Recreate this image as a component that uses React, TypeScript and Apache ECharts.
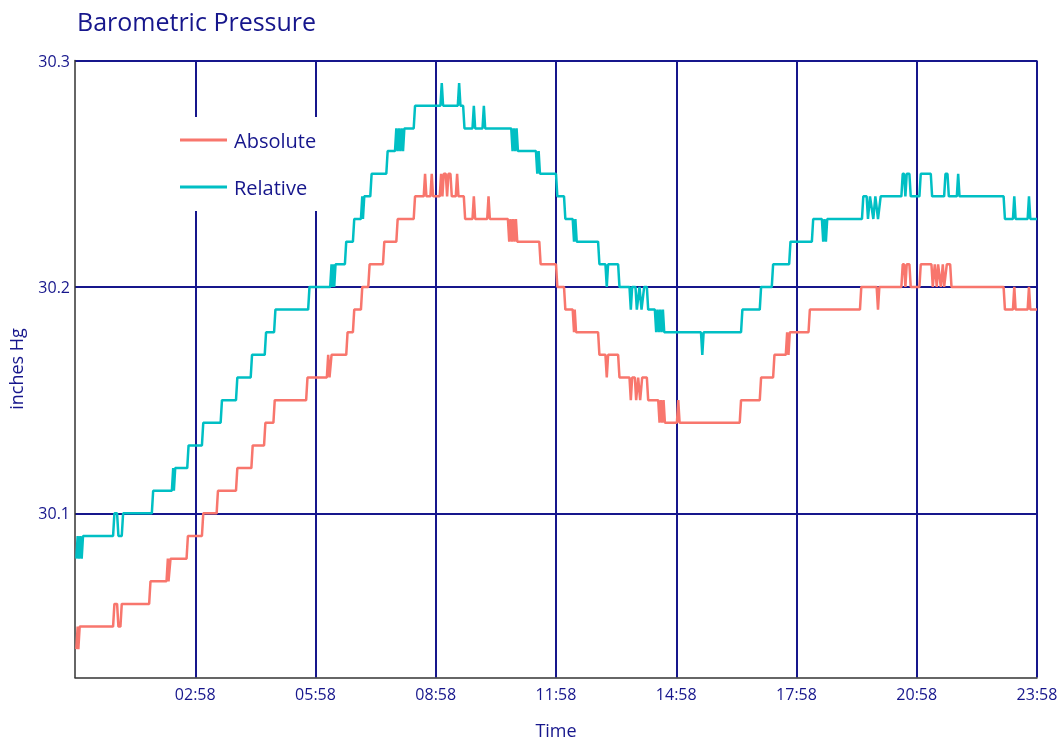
import React, { useEffect, useRef } from "react";
import * as echarts from "echarts";

// Minutes after midnight and readings (inches Hg)
const relativeMinutes = [
  0, 2, 4, 6, 8, 10, 55, 57, 61, 63, 68, 70, 113, 115, 143, 145, 146, 148, 166, 168,
  188, 190, 216, 218, 239, 241, 261, 263, 282, 284, 296, 298, 347, 349, 380, 382, 383, 385, 386, 388,
  402, 404, 414, 416, 426, 428, 429, 431, 440, 442, 464, 466, 477, 479, 481, 483, 485, 487, 489, 491,
  505, 507, 545, 547, 549, 571, 573, 575, 579, 581, 593, 595, 597, 608, 610, 612, 651, 653, 655, 657,
  659, 661, 688, 690, 692, 694, 718, 720, 730, 732, 743, 745, 747, 749, 781, 783, 792, 794, 796, 811,
  813, 828, 830, 832, 837, 839, 843, 846, 850, 854, 856, 866, 868, 870, 872, 874, 876, 878, 880, 935,
  937, 939, 995, 997, 1023, 1025, 1041, 1043, 1067, 1069, 1101, 1103, 1116, 1118, 1120, 1122, 1124, 1176, 1178, 1183,
  1185, 1188, 1193, 1196, 1200, 1204, 1235, 1237, 1239, 1241, 1243, 1247, 1249, 1262, 1264, 1279, 1281, 1299, 1301, 1304,
  1306, 1318, 1320, 1322, 1388, 1390, 1402, 1404, 1406, 1424, 1426, 1428, 1438,
];
const relativeValues = [
  30.08, 30.09, 30.08, 30.09, 30.08, 30.09, 30.09, 30.1, 30.1, 30.09, 30.09, 30.1, 30.1, 30.11, 30.11, 30.12, 30.11, 30.12, 30.12, 30.13,
  30.13, 30.14, 30.14, 30.15, 30.15, 30.16, 30.16, 30.17, 30.17, 30.18, 30.18, 30.19, 30.19, 30.2, 30.2, 30.21, 30.2, 30.21, 30.2, 30.21,
  30.21, 30.22, 30.22, 30.23, 30.23, 30.24, 30.23, 30.24, 30.24, 30.25, 30.25, 30.26, 30.26, 30.27, 30.26, 30.27, 30.26, 30.27, 30.26, 30.27,
  30.27, 30.28, 30.28, 30.29, 30.28, 30.28, 30.29, 30.28, 30.28, 30.27, 30.27, 30.28, 30.27, 30.27, 30.28, 30.27, 30.27, 30.26, 30.27, 30.26,
  30.27, 30.26, 30.26, 30.25, 30.26, 30.25, 30.25, 30.24, 30.24, 30.23, 30.23, 30.22, 30.23, 30.22, 30.22, 30.21, 30.21, 30.2, 30.21, 30.21,
  30.2, 30.2, 30.19, 30.2, 30.2, 30.19, 30.2, 30.19, 30.2, 30.2, 30.19, 30.19, 30.18, 30.19, 30.18, 30.19, 30.18, 30.19, 30.18, 30.18,
  30.17, 30.18, 30.18, 30.19, 30.19, 30.2, 30.2, 30.21, 30.21, 30.22, 30.22, 30.23, 30.23, 30.22, 30.23, 30.22, 30.23, 30.23, 30.24, 30.24,
  30.23, 30.24, 30.23, 30.24, 30.23, 30.24, 30.24, 30.25, 30.25, 30.24, 30.25, 30.25, 30.24, 30.24, 30.25, 30.25, 30.24, 30.24, 30.25, 30.25,
  30.24, 30.24, 30.25, 30.24, 30.24, 30.23, 30.23, 30.24, 30.23, 30.23, 30.24, 30.23, 30.23,
];

const absoluteMinutes = [
  0, 2, 3, 5, 55, 57, 61, 63, 66, 68, 109, 111, 135, 137, 138, 141, 165, 167, 188, 190,
  210, 212, 239, 241, 262, 264, 281, 283, 295, 297, 344, 346, 375, 377, 379, 382, 404, 406, 414, 416,
  426, 428, 437, 439, 459, 461, 479, 481, 505, 507, 520, 522, 524, 530, 532, 534, 544, 546, 548, 550,
  553, 555, 557, 560, 562, 568, 570, 572, 580, 582, 593, 595, 597, 615, 617, 619, 646, 648, 650, 652,
  654, 656, 658, 660, 693, 695, 718, 720, 730, 732, 743, 745, 746, 748, 781, 783, 792, 794, 796, 811,
  813, 828, 830, 832, 836, 838, 841, 844, 847, 854, 856, 871, 873, 875, 877, 879, 881, 899, 901, 903,
  993, 995, 1023, 1025, 1043, 1045, 1062, 1064, 1066, 1068, 1096, 1098, 1173, 1175, 1198, 1200, 1202, 1235, 1237, 1239,
  1241, 1243, 1247, 1249, 1262, 1264, 1280, 1282, 1285, 1288, 1290, 1294, 1297, 1299, 1303, 1308, 1310, 1388, 1390, 1402,
  1404, 1406, 1424, 1426, 1428, 1438,
];
const absoluteValues = [
  30.04, 30.05, 30.04, 30.05, 30.05, 30.06, 30.06, 30.05, 30.05, 30.06, 30.06, 30.07, 30.07, 30.08, 30.07, 30.08, 30.08, 30.09, 30.09, 30.1,
  30.1, 30.11, 30.11, 30.12, 30.12, 30.13, 30.13, 30.14, 30.14, 30.15, 30.15, 30.16, 30.16, 30.17, 30.16, 30.17, 30.17, 30.18, 30.18, 30.19,
  30.19, 30.2, 30.2, 30.21, 30.21, 30.22, 30.22, 30.23, 30.23, 30.24, 30.24, 30.25, 30.24, 30.24, 30.25, 30.24, 30.24, 30.25, 30.24, 30.25,
  30.25, 30.24, 30.25, 30.25, 30.24, 30.24, 30.25, 30.24, 30.24, 30.23, 30.23, 30.24, 30.23, 30.23, 30.24, 30.23, 30.23, 30.22, 30.23, 30.22,
  30.23, 30.22, 30.23, 30.22, 30.22, 30.21, 30.21, 30.2, 30.2, 30.19, 30.19, 30.18, 30.19, 30.18, 30.18, 30.17, 30.17, 30.16, 30.17, 30.17,
  30.16, 30.16, 30.15, 30.16, 30.16, 30.15, 30.16, 30.15, 30.16, 30.16, 30.15, 30.15, 30.14, 30.15, 30.14, 30.15, 30.14, 30.14, 30.15, 30.14,
  30.14, 30.15, 30.15, 30.16, 30.16, 30.17, 30.17, 30.18, 30.17, 30.18, 30.18, 30.19, 30.19, 30.2, 30.2, 30.19, 30.2, 30.2, 30.21, 30.21,
  30.2, 30.21, 30.21, 30.2, 30.2, 30.21, 30.21, 30.2, 30.21, 30.2, 30.21, 30.2, 30.21, 30.2, 30.21, 30.21, 30.2, 30.2, 30.19, 30.19,
  30.2, 30.19, 30.19, 30.2, 30.19, 30.19,
];

const seriesNames = ["Absolute", "Relative"];
const axisStartMinutes = -2; // 23:58 of the day before
const axisEndMinutes = 1438; // 23:58
const xTickMinutes = 180;
const yMin = 30.0275;
const yMax = 30.3;
const yStep = 0.1;

const NAVY = "#16168c";
const AXIS_DARK = "#333333";
const COLORS = ["#F8766D", "#00BFC4"];
const FONT = "'Open Sans', 'Noto Sans', sans-serif";

const pad2 = (n: number) => (n < 10 ? "0" + n : "" + n);
const fmtTime = (m: number) => {
  const mm = (((Math.round(m) % 1440) + 1440) % 1440);
  return pad2(Math.floor(mm / 60)) + ":" + pad2(mm % 60);
};

export default function App() {
  const ref = useRef<HTMLDivElement>(null);
  useEffect(() => {
    if (!ref.current) return;
    const chart = echarts.init(ref.current, null, { renderer: "svg" });
    const shift = -axisStartMinutes;
    const pairs = (ms: number[], vs: number[]) => ms.map((m, i) => [m + shift, vs[i]]);
    const lineSeries = (name: string, ms: number[], vs: number[], color: string) => ({
      type: "line",
      name,
      data: pairs(ms, vs),
      showSymbol: false,
      symbol: "none",
      smooth: false,
      lineStyle: { width: 2.5, color },
      itemStyle: { color },
      emphasis: { disabled: true },
    });
    chart.setOption({
      animation: false,
      textStyle: { fontFamily: FONT },
      title: {
        text: "Barometric Pressure",
        left: 77,
        top: 8,
        padding: 0,
        textStyle: { color: NAVY, fontSize: 25, fontWeight: "normal", fontFamily: FONT },
      },
      legend: {
        data: seriesNames,
        orient: "vertical",
        left: 165,
        top: 117,
        padding: [13, 15, 14, 15],
        itemGap: 27,
        itemWidth: 47,
        itemHeight: 3,
        icon: "rect",
        backgroundColor: "#ffffff",
        textStyle: { color: NAVY, fontSize: 20, fontFamily: FONT, padding: [0, 0, 0, 2] },
        selectedMode: false,
      },
      grid: { left: 75, right: 24, top: 60.5, bottom: 70.5, containLabel: false, outerBoundsMode: "none" },
      xAxis: {
        type: "value",
        min: 0,
        max: axisEndMinutes - axisStartMinutes,
        interval: xTickMinutes,
        name: "Time",
        nameLocation: "middle",
        nameGap: 43,
        nameTextStyle: { color: NAVY, fontSize: 18, fontFamily: FONT },
        axisLine: { show: true, onZero: false, lineStyle: { color: AXIS_DARK, width: 1.5 } },
        axisTick: { show: false },
        axisLabel: {
          color: NAVY,
          fontSize: 16,
          margin: 8,
          fontFamily: FONT,
          showMinLabel: false,
          formatter: (v: number) => fmtTime(v - shift),
        },
        splitLine: { show: true, showMinLine: false, lineStyle: { color: NAVY, width: 2 } },
      },
      yAxis: {
        type: "value",
        min: yMin,
        max: yMax,
        splitNumber: 3,
        minInterval: yStep,
        maxInterval: yStep,
        name: "inches Hg",
        nameLocation: "middle",
        nameGap: 50,
        nameTextStyle: { color: NAVY, fontSize: 18, fontFamily: FONT },
        axisLine: { show: true, onZero: false, lineStyle: { color: AXIS_DARK, width: 1.5 } },
        axisTick: { show: false },
        axisLabel: {
          color: NAVY,
          fontSize: 16,
          margin: 5,
          fontFamily: FONT,
          showMinLabel: false,
          formatter: (v: number) => (Math.abs(v - Math.round(v * 10) / 10) < 1e-6 ? (Math.round(v * 10) / 10).toString() : ""),
        },
        splitLine: { show: true, showMinLine: false, lineStyle: { color: NAVY, width: 2 } },
      },
      series: [
        lineSeries(seriesNames[0], absoluteMinutes, absoluteValues, COLORS[0]),
        lineSeries(seriesNames[1], relativeMinutes, relativeValues, COLORS[1]),
      ],
    });
    return () => chart.dispose();
  }, []);
  return <div ref={ref} style={{ position: "fixed", left: 0, top: 0, width: 1061, height: 748 }} />;
}
